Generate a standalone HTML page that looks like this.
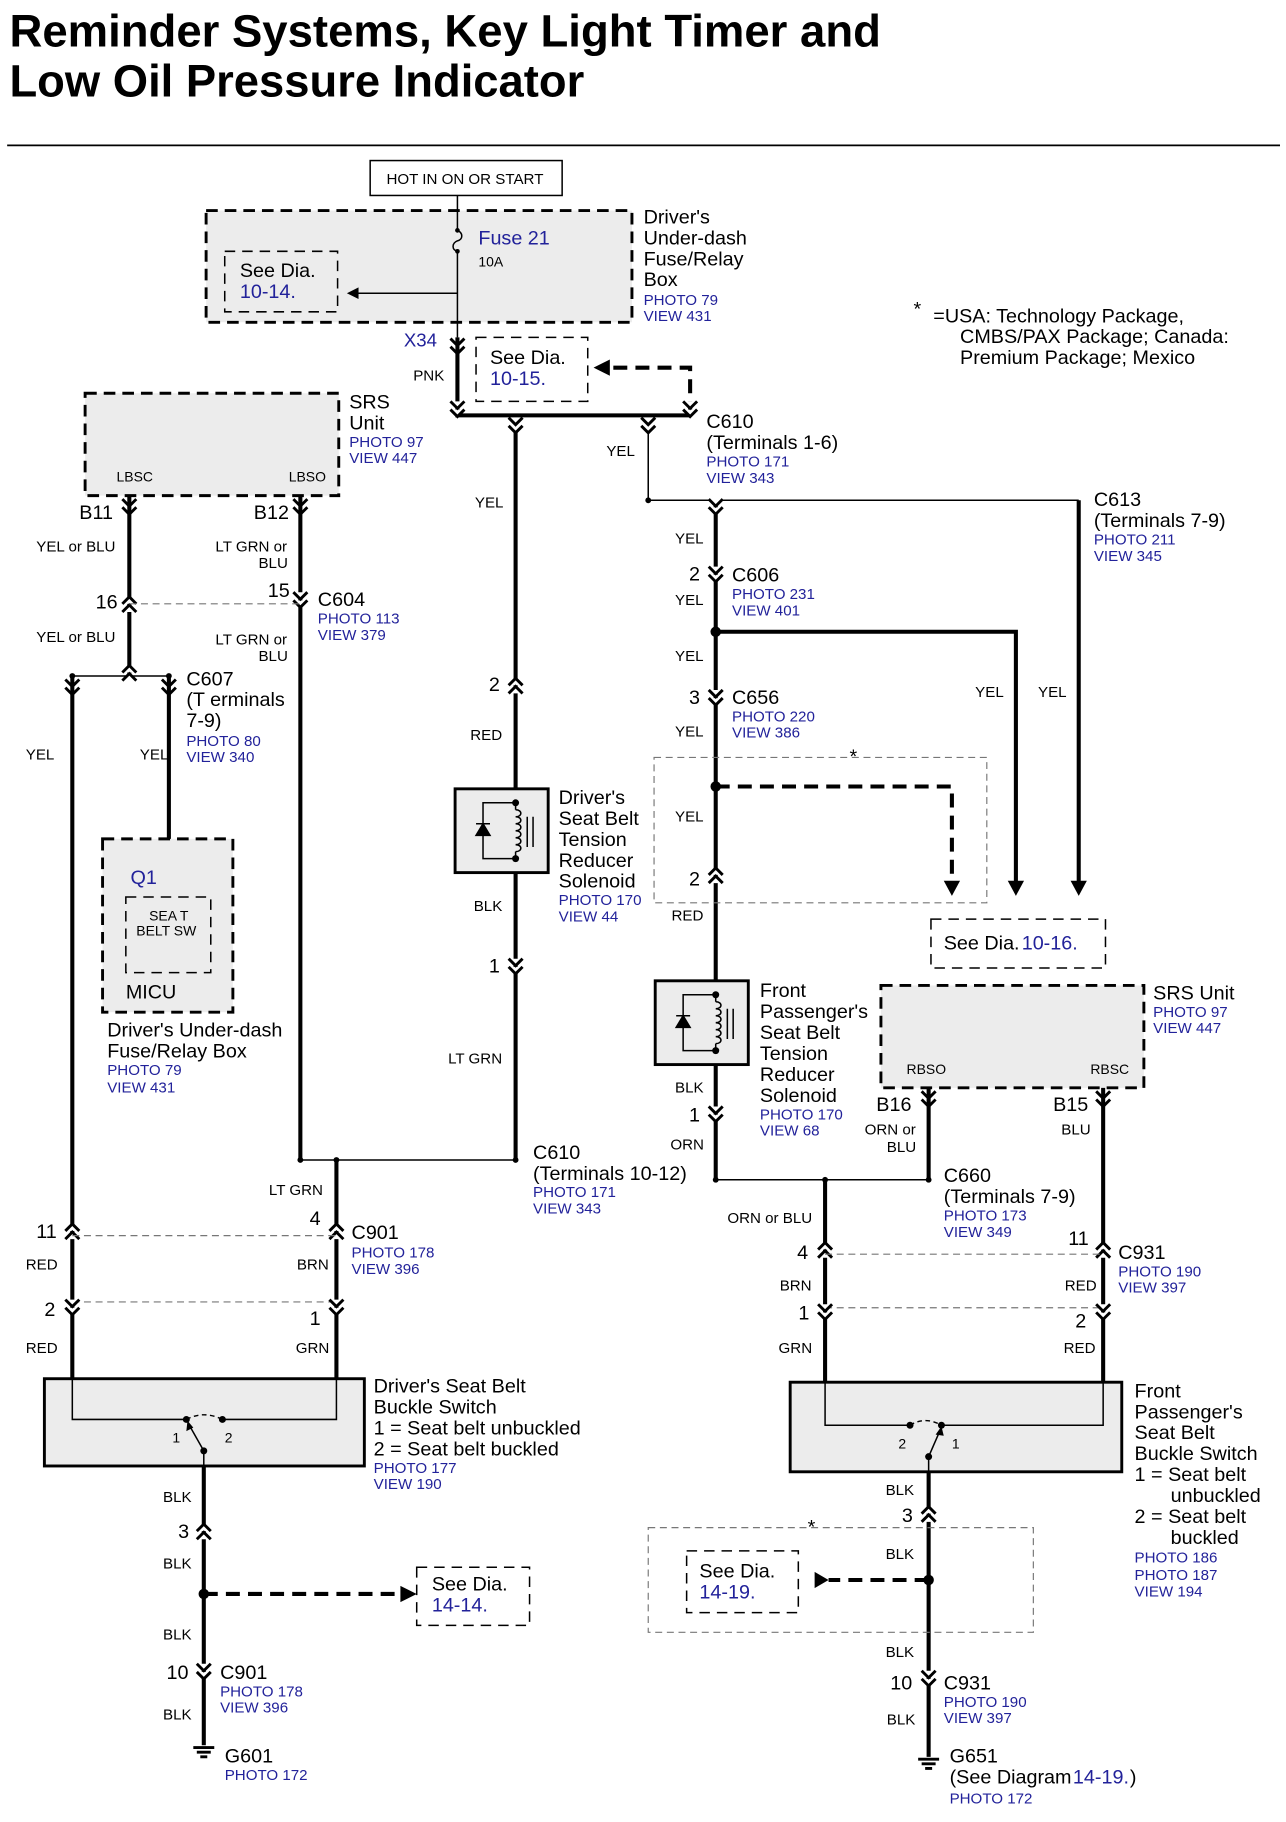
<!DOCTYPE html>
<html><head><meta charset="utf-8"><style>
html,body{margin:0;padding:0;background:#fff;}
svg{display:block;}
text{font-family:"Liberation Sans",Arial,sans-serif;fill:#000;}
.t{font-size:17px;}
.s{font-size:13px;}
.b{font-size:13px;fill:#22229a;}
.bl{font-size:17px;fill:#22229a;}
.w{stroke:#000;stroke-width:3.5;fill:none;}
.th{stroke:#000;stroke-width:1.3;fill:none;}
.dl{stroke:#777;stroke-width:1;stroke-dasharray:6,4;fill:none;}
.db{stroke:#000;stroke-width:2.5;stroke-dasharray:10,6;fill:#ececec;}
.dw{stroke:#000;stroke-width:1.3;stroke-dasharray:9,6;fill:none;}
.dd{stroke:#000;stroke-width:3.5;stroke-dasharray:12,7;fill:none;}
.gb{stroke:#000;stroke-width:2.5;fill:#ececec;}
</style></head><body>
<svg width="1286" height="1822" viewBox="0 0 1105 1566" xmlns="http://www.w3.org/2000/svg">
<defs>
<g id="cd"><path d="M-6,-7 L0,-1 L6,-7 M-6,0 L0,6 L6,0" stroke="#000" stroke-width="2.5" fill="#fff"/></g>
<g id="cu"><path d="M-6,7 L0,1 L6,7 M-6,0 L0,-6 L6,0" stroke="#000" stroke-width="2.5" fill="#fff"/></g>
<g id="sol">
<rect x="-52" y="0" width="80" height="72" class="gb"/>
<path d="M0,12 L0,18 M0,54 L0,60" class="th"/>
<path d="M0,18 c6,0 6,6 0,6 c6,0 6,6 0,6 c6,0 6,6 0,6 c6,0 6,6 0,6 c6,0 6,6 0,6 c6,0 6,6 0,6" class="th"/>
<path d="M0,12 L-28,12 L-28,60 L0,60" class="th"/>
<path d="M-34,40 L-22,40 L-28,30 Z M-34,30 L-22,30" stroke="#000" stroke-width="1.3" fill="#000"/>
<path d="M10,24 L10,50 M15,24 L15,50" class="th"/>
<circle cx="0" cy="12" r="3" fill="#000"/><circle cx="0" cy="60" r="3" fill="#000"/>
</g>
<g id="gnd"><path d="M-9,0 L9,0 M-6,4 L6,4 M-3,8 L3,8" stroke="#000" stroke-width="2.5"/></g>
</defs>

<text x="8" y="40" style="font-size:39px;font-weight:bold" textLength="749" lengthAdjust="spacingAndGlyphs">Reminder Systems, Key Light Timer and</text>
<text x="8" y="83" style="font-size:39px;font-weight:bold" textLength="494" lengthAdjust="spacingAndGlyphs">Low Oil Pressure Indicator</text>
<line x1="6" y1="125" x2="1100" y2="125" stroke="#000" stroke-width="1.5"/>

<rect x="318" y="138" width="165" height="30" fill="#fff" stroke="#000" stroke-width="1.3"/>
<text x="332" y="158" style="font-size:13px">HOT IN ON OR START</text>
<rect x="177" y="181" width="366" height="96" class="db"/>
<rect x="193" y="216" width="97" height="52" class="dw" fill="#ececec"/>
<text x="206" y="238" class="t">See Dia.</text><text x="206" y="256" class="bl">10-14.</text>
<path d="M393,168 L393,198 c5,2 5,8 0,9 c-5,2 -5,8 0,9 L393,290" class="th"/>
<circle cx="393" cy="198" r="2" fill="#000"/><circle cx="393" cy="216" r="2" fill="#000"/>
<line x1="393" y1="252" x2="305" y2="252" class="th"/><path d="M298,252 L308,247 L308,257 Z"/>
<text x="411" y="210" class="bl">Fuse 21</text><text x="411" y="229" style="font-size:12px">10A</text>
<text x="553" y="192" class="t">Driver's</text><text x="553" y="210" class="t">Under-dash</text><text x="553" y="228" class="t">Fuse/Relay</text><text x="553" y="246" class="t">Box</text>
<text x="553" y="262" class="b">PHOTO 79</text><text x="553" y="276" class="b">VIEW 431</text>
<text x="785" y="271" class="t">*</text>
<text x="802" y="277" class="t">=USA: Technology Package,</text><text x="825" y="295" class="t">CMBS/PAX Package; Canada:</text><text x="825" y="313" class="t">Premium Package; Mexico</text>

<text x="347" y="298" class="bl" style="font-size:16px">X34</text>
<use href="#cd" x="393" y="298"/>
<text x="355" y="327" class="s">PNK</text>
<path d="M393,290 L393,357 L593,357" class="w"/>
<rect x="409" y="290" width="96" height="55" class="dw"/>
<text x="421" y="313" class="t">See Dia.</text><text x="421" y="331" class="bl">10-15.</text>
<path d="M593,357 L593,316 L522,316" class="dd"/><path d="M510,316 L524,309 L524,323 Z"/>
<use href="#cd" x="393" y="352"/><use href="#cd" x="443" y="366"/><use href="#cd" x="557" y="366"/><use href="#cd" x="593" y="352"/>
<text x="607" y="368" class="t">C610</text><text x="607" y="386" class="t">(Terminals 1-6)</text>
<text x="607" y="401" class="b">PHOTO 171</text><text x="607" y="415" class="b">VIEW 343</text>
<text x="521" y="392" class="s">YEL</text>
<path d="M443,370 L443,997" class="w"/>
<path d="M557,370 L557,430 L927,430" class="th"/>
<circle cx="557" cy="430" r="2.5"/>
<path d="M615,430 L615,1014" class="w"/>
<path d="M927,430 L927,758" class="w"/><path d="M920,757 L927,770 L934,757 Z"/>
<text x="940" y="435" class="t">C613</text><text x="940" y="453" class="t">(Terminals 7-9)</text>
<text x="940" y="468" class="b">PHOTO 211</text><text x="940" y="482" class="b">VIEW 345</text>
<use href="#cd" x="615" y="436"/>
<text x="408" y="436" class="s">YEL</text>

<rect x="73" y="338" width="218" height="88" class="db"/>
<text x="100" y="414" style="font-size:12px">LBSC</text><text x="248" y="414" style="font-size:12px">LBSO</text>
<text x="300" y="351" class="t">SRS</text><text x="300" y="369" class="t">Unit</text>
<text x="300" y="384" class="b">PHOTO 97</text><text x="300" y="398" class="b">VIEW 447</text>
<text x="68" y="446" class="t">B11</text><text x="218" y="446" class="t">B12</text>
<use href="#cd" x="111" y="436"/><use href="#cd" x="258" y="436"/>
<path d="M111,426 L111,581" class="w"/><path d="M258,426 L258,997" class="w"/>
<text x="31" y="474" class="s">YEL or BLU</text>
<text x="185" y="474" class="s">LT GRN or</text><text x="222" y="488" class="s">BLU</text>
<use href="#cu" x="111" y="519"/><use href="#cd" x="258" y="516"/>
<line x1="111" y1="519" x2="258" y2="519" class="dl"/>
<text x="82" y="523" class="t">16</text><text x="230" y="513" class="t">15</text>
<text x="273" y="521" class="t">C604</text><text x="273" y="536" class="b">PHOTO 113</text><text x="273" y="550" class="b">VIEW 379</text>
<text x="31" y="552" class="s">YEL or BLU</text>
<text x="185" y="554" class="s">LT GRN or</text><text x="222" y="568" class="s">BLU</text>
<path d="M62,581 L145,581" class="th"/>
<use href="#cu" x="111" y="578"/><use href="#cd" x="62" y="591"/><use href="#cd" x="145" y="591"/>
<circle cx="62" cy="581" r="2.5"/><circle cx="145" cy="581" r="2.5"/>
<text x="160" y="589" class="t">C607</text><text x="160" y="607" class="t">(T erminals</text><text x="160" y="625" class="t">7-9)</text>
<text x="160" y="641" class="b">PHOTO 80</text><text x="160" y="655" class="b">VIEW 340</text>
<path d="M62,581 L62,1185" class="w"/>
<path d="M145,581 L145,758" class="w"/><path d="M139,756 L145,766 L151,756 Z"/>
<text x="22" y="653" class="s">YEL</text><text x="120" y="653" class="s">YEL</text>
<rect x="88" y="721" width="112" height="149" class="db"/>
<text x="112" y="760" class="bl">Q1</text>
<rect x="108" y="771" width="73" height="65" class="dw"/>
<text x="128" y="791" style="font-size:12px">SEA T</text><text x="117" y="804" style="font-size:12px">BELT SW</text>
<text x="108" y="858" class="t">MICU</text>
<text x="92" y="891" class="t">Driver's Under-dash</text><text x="92" y="909" class="t">Fuse/Relay Box</text>
<text x="92" y="924" class="b">PHOTO 79</text><text x="92" y="939" class="b">VIEW 431</text>

<use href="#cu" x="443" y="589"/><text x="420" y="594" class="t">2</text>
<text x="404" y="636" class="s">RED</text>
<use href="#sol" x="443" y="678"/>
<text x="480" y="691" class="t">Driver's</text><text x="480" y="709" class="t">Seat Belt</text><text x="480" y="727" class="t">Tension</text><text x="480" y="745" class="t">Reducer</text><text x="480" y="763" class="t">Solenoid</text>
<text x="480" y="778" class="b">PHOTO 170</text><text x="480" y="792" class="b">VIEW 44</text>
<text x="407" y="783" class="s">BLK</text>
<use href="#cd" x="443" y="831"/><text x="420" y="836" class="t">1</text>
<text x="385" y="914" class="s">LT GRN</text>
<path d="M258,997 L443,997" class="th"/>
<circle cx="258" cy="997" r="2.5"/><circle cx="289" cy="997" r="2.5"/><circle cx="443" cy="997" r="2.5"/>
<text x="458" y="996" class="t">C610</text><text x="458" y="1014" class="t">(Terminals 10-12)</text>
<text x="458" y="1029" class="b">PHOTO 171</text><text x="458" y="1043" class="b">VIEW 343</text>
<path d="M289,997 L289,1185" class="w"/>
<text x="231" y="1027" class="s">LT GRN</text>
<use href="#cu" x="62" y="1058"/><use href="#cu" x="289" y="1058"/>
<line x1="62" y1="1062" x2="289" y2="1062" class="dl"/>
<text x="31" y="1064" class="t">11</text><text x="266" y="1053" class="t">4</text>
<text x="302" y="1065" class="t">C901</text><text x="302" y="1081" class="b">PHOTO 178</text><text x="302" y="1095" class="b">VIEW 396</text>
<text x="22" y="1091" class="s">RED</text><text x="255" y="1091" class="s">BRN</text>
<line x1="62" y1="1119" x2="289" y2="1119" class="dl"/>
<use href="#cd" x="62" y="1124"/><use href="#cd" x="289" y="1124"/>
<text x="38" y="1131" class="t">2</text><text x="266" y="1139" class="t">1</text>
<text x="22" y="1163" class="s">RED</text><text x="254" y="1163" class="s">GRN</text>
<rect x="38" y="1185" width="275" height="75" class="gb"/>
<path d="M62,1185 L62,1220 L160,1220 M191,1220 L289,1220 L289,1185" class="th"/>
<path d="M160,1220 Q175,1212 191,1220" stroke="#000" stroke-width="1.2" stroke-dasharray="4,3" fill="none"/>
<circle cx="160" cy="1220" r="3"/><circle cx="191" cy="1220" r="3"/><circle cx="175" cy="1247" r="3"/>
<path d="M175,1247 L162,1224" class="th"/><path d="M161,1221 L160,1230 L166,1227 Z"/>
<text x="148" y="1240" style="font-size:12px">1</text><text x="193" y="1240" style="font-size:12px">2</text>
<text x="321" y="1197" class="t">Driver's Seat Belt</text><text x="321" y="1215" class="t">Buckle Switch</text>
<text x="321" y="1233" class="t">1 = Seat belt unbuckled</text><text x="321" y="1251" class="t">2 = Seat belt buckled</text>
<text x="321" y="1266" class="b">PHOTO 177</text><text x="321" y="1280" class="b">VIEW 190</text>
<path d="M175,1247 L175,1260" class="th"/>
<path d="M175,1260 L175,1500" class="w"/>
<text x="140" y="1291" class="s">BLK</text>
<use href="#cu" x="175" y="1316"/><text x="153" y="1322" class="t">3</text>
<text x="140" y="1348" class="s">BLK</text>
<circle cx="175" cy="1370" r="4.5"/>
<path d="M175,1370 L346,1370" class="dd"/><path d="M358,1370 L344,1363 L344,1377 Z"/>
<rect x="358" y="1347" width="97" height="50" class="dw"/>
<text x="371" y="1367" class="t">See Dia.</text><text x="371" y="1385" class="bl">14-14.</text>
<text x="140" y="1409" class="s">BLK</text>
<use href="#cd" x="175" y="1437"/><text x="143" y="1443" class="t">10</text>
<text x="189" y="1443" class="t">C901</text><text x="189" y="1458" class="b">PHOTO 178</text><text x="189" y="1472" class="b">VIEW 396</text>
<text x="140" y="1478" class="s">BLK</text>
<use href="#gnd" x="175" y="1502"/>
<text x="193" y="1515" class="t">G601</text><text x="193" y="1530" class="b">PHOTO 172</text>

<text x="580" y="467" class="s">YEL</text>
<use href="#cd" x="615" y="494"/><text x="592" y="499" class="t">2</text>
<text x="629" y="500" class="t">C606</text><text x="629" y="515" class="b">PHOTO 231</text><text x="629" y="529" class="b">VIEW 401</text>
<text x="580" y="520" class="s">YEL</text>
<circle cx="615" cy="543" r="4.5"/>
<path d="M615,543 L873,543 L873,758" class="w"/><path d="M866,757 L873,770 L880,757 Z"/>
<text x="580" y="568" class="s">YEL</text>
<use href="#cd" x="615" y="600"/><text x="592" y="605" class="t">3</text>
<text x="629" y="605" class="t">C656</text><text x="629" y="620" class="b">PHOTO 220</text><text x="629" y="634" class="b">VIEW 386</text>
<text x="580" y="633" class="s">YEL</text>
<text x="838" y="599" class="s">YEL</text><text x="892" y="599" class="s">YEL</text>
<rect x="562" y="651" width="286" height="125" class="dl" stroke-dasharray="4,4"/>
<text x="730" y="656" class="t">*</text>
<circle cx="615" cy="676" r="4.5"/>
<path d="M615,676 L818,676 L818,758" class="dd"/><path d="M811,757 L818,770 L825,757 Z"/>
<text x="580" y="706" class="s">YEL</text>
<use href="#cu" x="615" y="752"/><text x="592" y="761" class="t">2</text>
<text x="577" y="791" class="s">RED</text>
<rect x="800" y="790" width="150" height="42" class="dw"/>
<text x="811" y="816" class="t">See Dia.</text><text x="878" y="816" class="bl">10-16.</text>
<use href="#sol" x="615" y="843"/>
<text x="653" y="857" class="t">Front</text><text x="653" y="875" class="t">Passenger's</text><text x="653" y="893" class="t">Seat Belt</text><text x="653" y="911" class="t">Tension</text><text x="653" y="929" class="t">Reducer</text><text x="653" y="947" class="t">Solenoid</text>
<text x="653" y="962" class="b">PHOTO 170</text><text x="653" y="976" class="b">VIEW 68</text>
<text x="580" y="939" class="s">BLK</text>
<use href="#cd" x="615" y="958"/><text x="592" y="964" class="t">1</text>
<text x="576" y="988" class="s">ORN</text>
<path d="M615,1014 L800,1014" class="th"/>
<circle cx="615" cy="1014" r="2.5"/><circle cx="709" cy="1014" r="2.5"/><circle cx="798" cy="1014" r="2.5"/>
<rect x="757" y="847" width="226" height="88" class="db"/>
<text x="779" y="923" style="font-size:12px">RBSO</text><text x="937" y="923" style="font-size:12px">RBSC</text>
<text x="991" y="859" class="t">SRS Unit</text><text x="991" y="874" class="b">PHOTO 97</text><text x="991" y="888" class="b">VIEW 447</text>
<text x="753" y="955" class="t">B16</text><text x="905" y="955" class="t">B15</text>
<use href="#cd" x="798" y="945"/><use href="#cd" x="948" y="945"/>
<path d="M798,935 L798,1014" class="w"/><path d="M948,935 L948,1188" class="w"/>
<text x="743" y="975" class="s">ORN or</text><text x="762" y="990" class="s">BLU</text>
<text x="912" y="975" class="s">BLU</text>
<text x="811" y="1016" class="t">C660</text><text x="811" y="1034" class="t">(Terminals 7-9)</text>
<text x="811" y="1049" class="b">PHOTO 173</text><text x="811" y="1063" class="b">VIEW 349</text>
<path d="M709,1014 L709,1188" class="w"/>
<text x="625" y="1051" class="s">ORN or BLU</text>
<use href="#cu" x="709" y="1074"/><use href="#cu" x="948" y="1074"/>
<line x1="709" y1="1078" x2="948" y2="1078" class="dl"/>
<text x="685" y="1082" class="t">4</text><text x="918" y="1070" class="t">11</text>
<text x="961" y="1082" class="t">C931</text><text x="961" y="1097" class="b">PHOTO 190</text><text x="961" y="1111" class="b">VIEW 397</text>
<text x="670" y="1109" class="s">BRN</text><text x="915" y="1109" class="s">RED</text>
<line x1="709" y1="1124" x2="948" y2="1124" class="dl"/>
<use href="#cd" x="709" y="1128"/><use href="#cd" x="948" y="1128"/>
<text x="686" y="1134" class="t">1</text><text x="924" y="1141" class="t">2</text>
<text x="669" y="1163" class="s">GRN</text><text x="914" y="1163" class="s">RED</text>
<rect x="679" y="1188" width="285" height="77" class="gb"/>
<path d="M709,1188 L709,1225 L782,1225 M809,1225 L948,1225 L948,1188" class="th"/>
<path d="M782,1225 Q795,1217 809,1225" stroke="#000" stroke-width="1.2" stroke-dasharray="4,3" fill="none"/>
<circle cx="782" cy="1225" r="3"/><circle cx="809" cy="1225" r="3"/><circle cx="798" cy="1252" r="3"/>
<path d="M798,1252 L808,1229" class="th"/><path d="M809,1226 L804,1233 L811,1234 Z"/>
<text x="772" y="1245" style="font-size:12px">2</text><text x="818" y="1245" style="font-size:12px">1</text>
<text x="975" y="1201" class="t">Front</text><text x="975" y="1219" class="t">Passenger's</text><text x="975" y="1237" class="t">Seat Belt</text><text x="975" y="1255" class="t">Buckle Switch</text>
<text x="975" y="1273" class="t">1 = Seat belt</text><text x="1006" y="1291" class="t">unbuckled</text>
<text x="975" y="1309" class="t">2 = Seat belt</text><text x="1006" y="1327" class="t">buckled</text>
<text x="975" y="1343" class="b">PHOTO 186</text><text x="975" y="1358" class="b">PHOTO 187</text><text x="975" y="1372" class="b">VIEW 194</text>
<path d="M798,1252 L798,1265" class="th"/>
<path d="M798,1265 L798,1510" class="w"/>
<text x="761" y="1285" class="s">BLK</text>
<use href="#cu" x="798" y="1301"/><text x="775" y="1308" class="t">3</text>
<rect x="557" y="1313" width="331" height="90" class="dl" stroke-dasharray="4,4"/>
<text x="694" y="1318" class="t">*</text>
<text x="761" y="1340" class="s">BLK</text>
<rect x="590" y="1333" width="96" height="53" class="dw"/>
<text x="601" y="1356" class="t">See Dia.</text><text x="601" y="1374" class="bl">14-19.</text>
<circle cx="798" cy="1358" r="4.5"/>
<path d="M798,1358 L712,1358" class="dd"/><path d="M712,1358 L700,1351 L700,1365 Z"/>
<text x="761" y="1424" class="s">BLK</text>
<use href="#cd" x="798" y="1443"/><text x="765" y="1452" class="t">10</text>
<text x="811" y="1452" class="t">C931</text><text x="811" y="1467" class="b">PHOTO 190</text><text x="811" y="1481" class="b">VIEW 397</text>
<text x="762" y="1482" class="s">BLK</text>
<use href="#gnd" x="798" y="1512"/>
<text x="816" y="1515" class="t">G651</text>
<text x="816" y="1533" class="t">(See Diagram</text><text x="922" y="1533" class="bl">14-19.</text><text x="971" y="1533" class="t">)</text>
<text x="816" y="1550" class="b">PHOTO 172</text>
</svg>
</body></html>
